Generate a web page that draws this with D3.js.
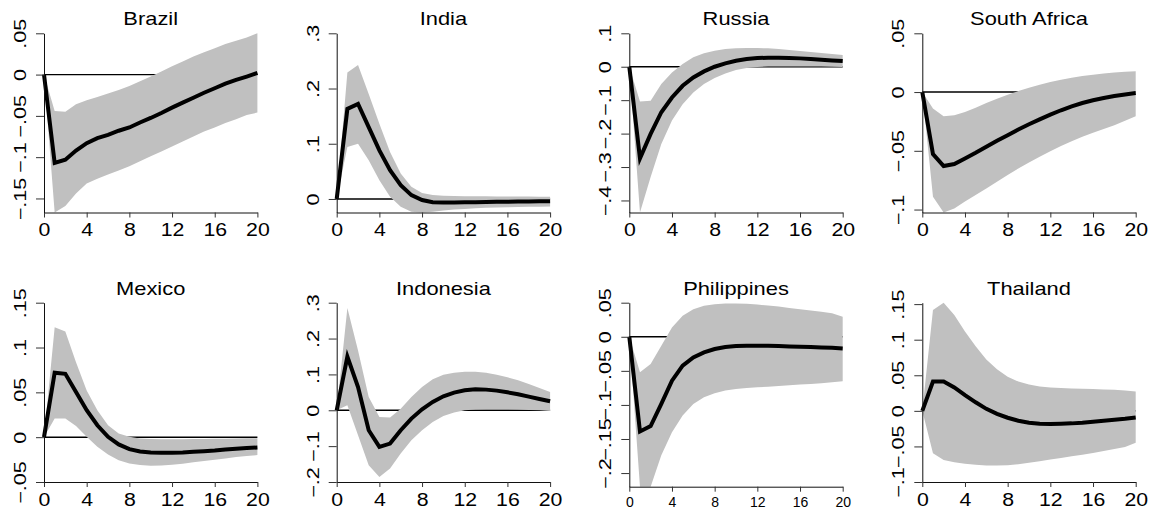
<!DOCTYPE html>
<html>
<head>
<meta charset="utf-8">
<script src="https://cdn.jsdelivr.net/npm/d3@7"></script>
<style>
  body { margin: 0; background: white; }
  text { font-family: "Liberation Sans", Arial, sans-serif; }
</style>
</head>
<body>
<script>
// horizons 0..20
const periods = d3.range(0, 21)
const countries = ['Brazil', 'India', 'Russia', 'South Africa', 'Mexico', 'Indonesia', 'Philippines', 'Thailand']
const xTicks = [0, 4, 8, 12, 16, 20]

// y tick values per panel
const brazilTicks = [-0.15, -0.1, -0.05, 0, 0.05]
const indiaTicks = [0, 0.1, 0.2, 0.3]
const russiaTicks = [-0.4, -0.3, -0.2, -0.1, 0, 0.1]
const southAfricaTicks = [-0.1, -0.05, 0, 0.05]
const mexicoTicks = [-0.05, 0, 0.05, 0.1, 0.15]
const indonesiaTicks = [-0.2, -0.1, 0, 0.1, 0.2, 0.3]
const philippinesTicks = [-0.2, -0.15, -0.1, -0.05, 0, 0.05]
const thailandTicks = [-0.1, -0.05, 0, 0.05, 0.1, 0.15]

// impulse responses (mean) and confidence band
const brazilMean = [0, -0.107, -0.103, -0.092, -0.083, -0.077, -0.073, -0.068, -0.064, -0.058, -0.0525, -0.0465, -0.040, -0.034, -0.028, -0.022, -0.0165, -0.011, -0.0065, -0.0024, 0.002]
const brazilUpper = [0, -0.044, -0.045, -0.036, -0.031, -0.027, -0.023, -0.0186, -0.0137, -0.008, -0.0024, 0.0036, 0.010, 0.016, 0.022, 0.027, 0.032, 0.037, 0.041, 0.045, 0.050]
const brazilLower = [0, -0.167, -0.159, -0.144, -0.132, -0.126, -0.121, -0.116, -0.111, -0.105, -0.099, -0.093, -0.087, -0.081, -0.075, -0.069, -0.064, -0.0585, -0.054, -0.049, -0.046]

const indiaMean = [0, 0.163, 0.172, 0.130, 0.088, 0.052, 0.025, 0.007, -0.002, -0.006, -0.0066, -0.0066, -0.006, -0.0058, -0.0055, -0.0052, -0.005, -0.0047, -0.0045, -0.0043, -0.004]
const indiaUpper = [0, 0.229, 0.2425, 0.190, 0.136, 0.085, 0.046, 0.022, 0.011, 0.007, 0.006, 0.0055, 0.005, 0.005, 0.0048, 0.0046, 0.0045, 0.0044, 0.0043, 0.0042, 0.004]
const indiaLower = [0, 0.094, 0.100, 0.070, 0.034, 0.004, -0.014, -0.023, -0.0245, -0.023, -0.021, -0.019, -0.018, -0.0168, -0.016, -0.0155, -0.015, -0.0146, -0.0143, -0.014, -0.0138]

const russiaMean = [0, -0.274, -0.201, -0.136, -0.092, -0.057, -0.032, -0.014, 0, 0.010, 0.018, 0.023, 0.026, 0.027, 0.027, 0.026, 0.025, 0.023, 0.021, 0.019, 0.017]
const russiaUpper = [0, -0.104, -0.102, -0.052, -0.017, 0.008, 0.028, 0.040, 0.048, 0.053, 0.055, 0.056, 0.056, 0.055, 0.053, 0.050, 0.047, 0.044, 0.041, 0.038, 0.035]
const russiaLower = [0, -0.436, -0.330, -0.231, -0.161, -0.112, -0.077, -0.052, -0.034, -0.020, -0.010, -0.004, -0.001, 0.001, 0.001, 0.001, 0.001, 0.001, 0.0005, 0, -0.001]

const southAfricaMean = [0, -0.0528, -0.063, -0.0613, -0.0565, -0.0517, -0.0466, -0.0415, -0.0367, -0.0319, -0.0274, -0.0232, -0.0192, -0.0155, -0.0121, -0.0093, -0.007, -0.005, -0.0034, -0.002, -0.0008]
const southAfricaUpper = [0, -0.014, -0.0206, -0.0198, -0.017, -0.0133, -0.0093, -0.0056, -0.0023, 0.0008, 0.0037, 0.0062, 0.0085, 0.0105, 0.0121, 0.0136, 0.0147, 0.0158, 0.0167, 0.0172, 0.0178]
const southAfricaLower = [0, -0.089, -0.1025, -0.099, -0.0932, -0.0876, -0.082, -0.0763, -0.0706, -0.065, -0.060, -0.055, -0.0503, -0.046, -0.0418, -0.038, -0.0347, -0.0314, -0.0282, -0.0245, -0.0206]

const mexicoMean = [0, 0.0719, 0.0707, 0.0504, 0.030, 0.0133, 0.0004, -0.0081, -0.0133, -0.0159, -0.017, -0.0174, -0.0174, -0.017, -0.0163, -0.0156, -0.0148, -0.0137, -0.013, -0.0122, -0.0115]
const mexicoUpper = [0, 0.1226, 0.1178, 0.0837, 0.0522, 0.030, 0.0133, 0.004, 0.0004, -0.0015, -0.002, -0.0022, -0.0022, -0.0022, -0.002, -0.002, -0.0018, -0.0017, -0.0015, -0.0013, -0.0012]
const mexicoLower = [0, 0.0207, 0.0207, 0.0126, 0.0004, -0.0107, -0.0193, -0.0256, -0.0293, -0.0311, -0.0319, -0.0315, -0.0307, -0.0296, -0.0281, -0.0267, -0.0252, -0.0237, -0.0222, -0.0211, -0.020]

const indonesiaMean = [0, 0.150, 0.065, -0.0557, -0.102, -0.0929, -0.0557, -0.0232, 0.0028, 0.0232, 0.039, 0.0492, 0.0557, 0.0585, 0.0576, 0.0548, 0.0501, 0.0446, 0.0381, 0.0316, 0.025]
const indonesiaUpper = [0, 0.285, 0.167, 0.037, -0.0186, -0.0204, 0.0046, 0.037, 0.065, 0.0864, 0.0994, 0.105, 0.1077, 0.1077, 0.105, 0.0994, 0.092, 0.0836, 0.0734, 0.0622, 0.051]
const indonesiaLower = [0, 0.014, -0.0696, -0.153, -0.186, -0.1625, -0.1207, -0.0836, -0.0557, -0.0325, -0.0158, -0.0065, 0, 0.002, 0.003, 0.003, 0.003, 0.002, 0.001, 0, -0.002]

const philippinesMean = [0, -0.139, -0.131, -0.0985, -0.0644, -0.0424, -0.0302, -0.0229, -0.018, -0.0151, -0.0137, -0.0132, -0.0132, -0.0132, -0.0137, -0.0141, -0.0146, -0.0151, -0.0156, -0.0161, -0.0171]
const philippinesUpper = [0, -0.052, -0.040, -0.0132, 0.0137, 0.0307, 0.0405, 0.0454, 0.0478, 0.0488, 0.0488, 0.0483, 0.0473, 0.0459, 0.0444, 0.0424, 0.0405, 0.0385, 0.0366, 0.0346, 0.0293]
const philippinesLower = [0, -0.220, -0.220, -0.174, -0.140, -0.1156, -0.0985, -0.0888, -0.0829, -0.079, -0.0766, -0.0751, -0.0741, -0.0732, -0.0722, -0.0712, -0.0702, -0.0693, -0.0683, -0.0668, -0.0654]

const thailandMean = [0, 0.0412, 0.0412, 0.0329, 0.0222, 0.012, 0.0028, -0.0042, -0.0097, -0.0139, -0.0167, -0.018, -0.0185, -0.018, -0.0176, -0.0167, -0.0153, -0.0139, -0.0125, -0.0111, -0.0093]
const thailandUpper = [0, 0.1417, 0.152, 0.1347, 0.1116, 0.0907, 0.0722, 0.0583, 0.0481, 0.0412, 0.037, 0.0343, 0.0329, 0.032, 0.0315, 0.031, 0.0306, 0.0301, 0.0296, 0.0287, 0.0273]
const thailandLower = [0, -0.0597, -0.069, -0.0722, -0.0745, -0.0759, -0.0769, -0.0769, -0.0764, -0.075, -0.0731, -0.0708, -0.0685, -0.0662, -0.0639, -0.0616, -0.0593, -0.0565, -0.0537, -0.0509, -0.0449]

const means = [brazilMean, indiaMean, russiaMean, southAfricaMean, mexicoMean, indonesiaMean, philippinesMean, thailandMean]
const uppers = [brazilUpper, indiaUpper, russiaUpper, southAfricaUpper, mexicoUpper, indonesiaUpper, philippinesUpper, thailandUpper]
const lowers = [brazilLower, indiaLower, russiaLower, southAfricaLower, mexicoLower, indonesiaLower, philippinesLower, thailandLower]
const yTicks = [brazilTicks, indiaTicks, russiaTicks, southAfricaTicks, mexicoTicks, indonesiaTicks, philippinesTicks, thailandTicks]

// layout
const width = 1151, height = 510
const colLeft = [44, 336.7, 629.3, 922.3]
const plotWidth = 213.4
const rowTop = [33.3, 302.7]
const rowBottom = [212.5, 482]
const bandColor = '#c0c0c0'

let svgContainer = d3.select("body").append("svg")
                                    .attr("width", width)
                                    .attr("height", height)

svgContainer.append('rect')
            .attr('width', '100%')
            .attr('height', '100%')
            .attr('fill', 'white')

for (let i = 0; i < countries.length; i++) {
    drawPanel(i)
}

function fmt(v) {
    if (Math.abs(v) < 1e-9) return '0'
    let s = String(+Math.abs(v).toFixed(2)).replace(/^0/, '')
    return (v < 0 ? '\u2212' : '') + s
}

function drawPanel(i) {
    let col = i % 4, row = Math.floor(i / 4)
    let small = countries[i] === 'Philippines'
    let left = colLeft[col]
    let top = rowTop[row]
    let bottom = rowBottom[row] + (small ? 4.7 : 0)

    let ext = d3.extent(yTicks[i].concat(lowers[i], uppers[i]))

    let x = d3.scaleLinear().domain([0, 20]).range([left, left + plotWidth])
    let y = d3.scaleLinear().domain(ext).range([bottom, top])

    let group = svgContainer.append('g')

    // zero line sits below the band
    group.append('line')
         .attr('x1', x(0))
         .attr('x2', x(20))
         .attr('y1', y(0))
         .attr('y2', y(0))
         .attr('stroke', 'black')
         .attr('stroke-width', 1.4)

    let area = d3.area()
                 .x((d, k) => x(periods[k]))
                 .y0((d, k) => y(lowers[i][k]))
                 .y1((d, k) => y(uppers[i][k]))

    group.append('path')
         .attr('d', area(periods))
         .attr('fill', bandColor)

    let line = d3.line()
                 .x((d, k) => x(periods[k]))
                 .y((d, k) => y(means[i][k]))

    group.append('path')
         .attr('d', line(periods))
         .attr('fill', 'none')
         .attr('stroke', 'black')
         .attr('stroke-width', 4)
         .attr('stroke-linejoin', 'miter')

    // x axis
    let xAxis = group.append('g')
                     .attr('transform', `translate(0,${bottom})`)
                     .call(d3.axisBottom(x).tickValues(xTicks).tickSize(5).tickSizeOuter(0).tickFormat(d3.format('d')))
    xAxis.select('.domain').attr('stroke', '#111')
    xAxis.selectAll('.tick line').attr('stroke', '#333')
    xAxis.selectAll('.tick text')
         .attr('font-size', small ? '14px' : '18.5px')
         .attr('fill', 'black')
         .attr('dy', null)
         .attr('x', 0)
         .attr('y', small ? 20 : 24)
         .attr('transform', small ? null : 'scale(1.15,1)')

    // y axis
    let yAxis = group.append('g')
                     .attr('transform', `translate(${left},0)`)
                     .call(d3.axisLeft(y).tickValues(yTicks[i]).tickSize(8).tickSizeOuter(0).tickFormat(fmt))
    yAxis.select('.domain').attr('stroke', '#111')
    yAxis.selectAll('.tick line').attr('stroke', '#333')
    yAxis.selectAll('.tick text')
         .attr('x', null)
         .attr('dy', null)
         .attr('font-size', '16px')
         .attr('fill', 'black')
         .attr('text-anchor', 'middle')
         .attr('transform', 'translate(-18,0) rotate(-90) scale(1.35,1)')

    // title
    group.append('text')
         .attr('x', 0)
         .attr('y', 0)
         .attr('transform', `translate(${left + plotWidth / 2},${top - 8}) scale(1.25,1)`)
         .attr('text-anchor', 'middle')
         .attr('font-size', '17.5px')
         .attr('fill', 'black')
         .text(countries[i])
}
</script>
</body>
</html>
